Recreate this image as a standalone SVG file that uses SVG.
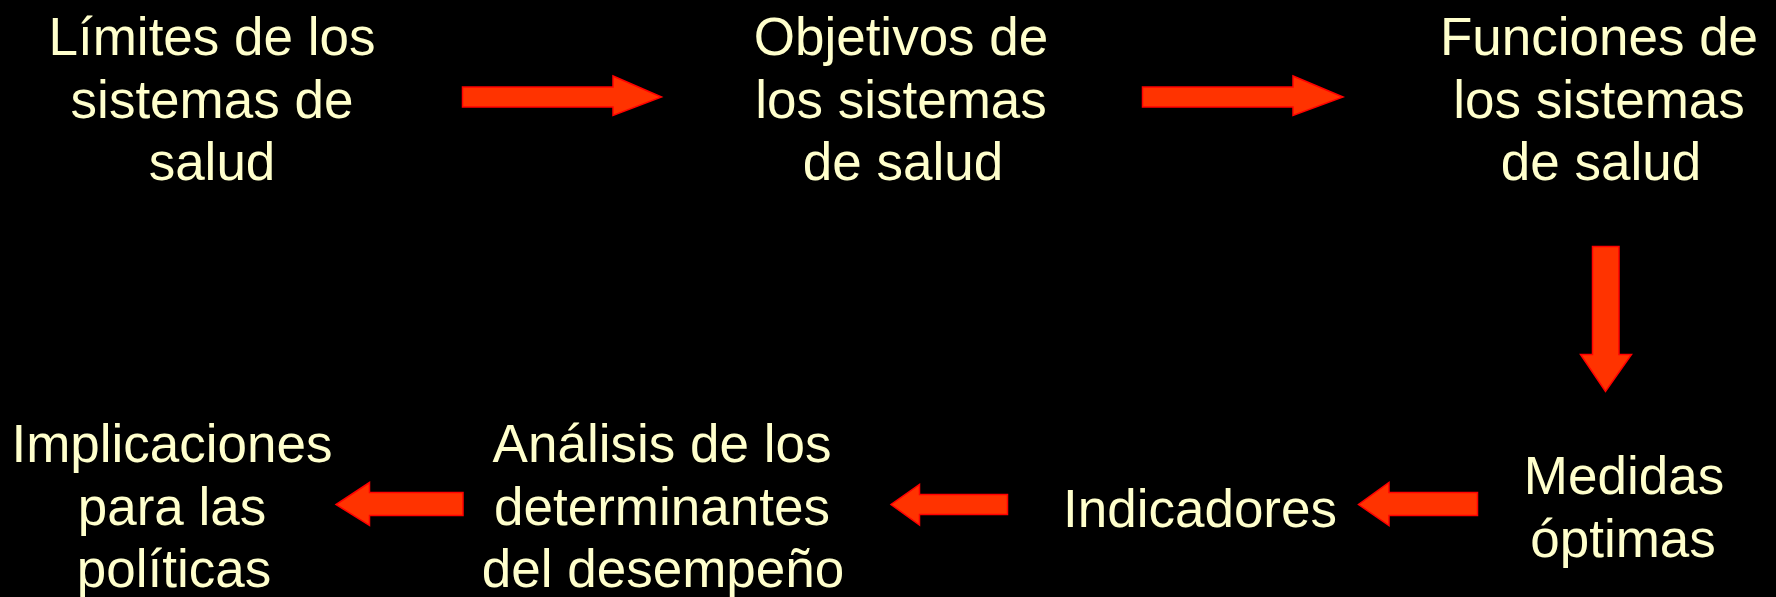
<svg xmlns="http://www.w3.org/2000/svg" width="1776" height="597" viewBox="0 0 1776 597">
<style>
  .lbl { font-family: "Liberation Sans", Arial, sans-serif; font-size: 53px; fill: #FFFFCC; text-anchor: middle; }
  .arr { fill: #FF3300; stroke: #FF0000; stroke-width: 1.5; stroke-linejoin: miter; }
</style>
<rect x="0" y="0" width="1776" height="597" fill="#000000"/>
<g id="n1"><text class="lbl"><tspan x="212" y="55">Límites de los</tspan><tspan x="212" y="118">sistemas de</tspan><tspan x="212" y="180">salud</tspan></text></g>
<g id="n2"><text class="lbl"><tspan x="901" y="55">Objetivos de</tspan><tspan x="901" y="118">los sistemas</tspan><tspan x="903" y="180">de salud</tspan></text></g>
<g id="n3"><text class="lbl"><tspan x="1599" y="55">Funciones de</tspan><tspan x="1599" y="118">los sistemas</tspan><tspan x="1601" y="180">de salud</tspan></text></g>
<g id="n4"><text class="lbl"><tspan x="1624" y="494">Medidas</tspan><tspan x="1623" y="557">óptimas</tspan></text></g>
<g id="n5"><text class="lbl" x="1200" y="527">Indicadores</text></g>
<g id="n6"><text class="lbl"><tspan x="662" y="462">Análisis de los</tspan><tspan x="662" y="525">determinantes</tspan><tspan x="663" y="587">del desempeño</tspan></text></g>
<g id="n7"><text class="lbl"><tspan x="172" y="462">Implicaciones</tspan><tspan x="172" y="525">para las</tspan><tspan x="174" y="587">políticas</tspan></text></g>
<g id="connectors">
  <polygon class="arr" points="462.5,87 613,87 613,76 661.5,97 613,115.5 613,107 462.5,107"/>
  <polygon class="arr" points="1142.5,87 1293,87 1293,76 1343,97 1293,115.5 1293,107 1142.5,107"/>
  <polygon class="arr" points="1592.5,246.5 1619,246.5 1619,354.5 1631.5,354.5 1605.5,391.5 1580.5,354.5 1592.5,354.5"/>
  <polygon class="arr" points="1477.5,492.5 1389,492.5 1389,482.5 1358.5,504.5 1389,525.5 1389,515.5 1477.5,515.5"/>
  <polygon class="arr" points="1007.5,494.5 919.5,494.5 919.5,484.5 891,504.5 919.5,525 919.5,514.5 1007.5,514.5"/>
  <polygon class="arr" points="463,492.5 369.5,492.5 369.5,482.5 336,504.5 369.5,525.5 369.5,515.5 463,515.5"/>
</g>
</svg>
